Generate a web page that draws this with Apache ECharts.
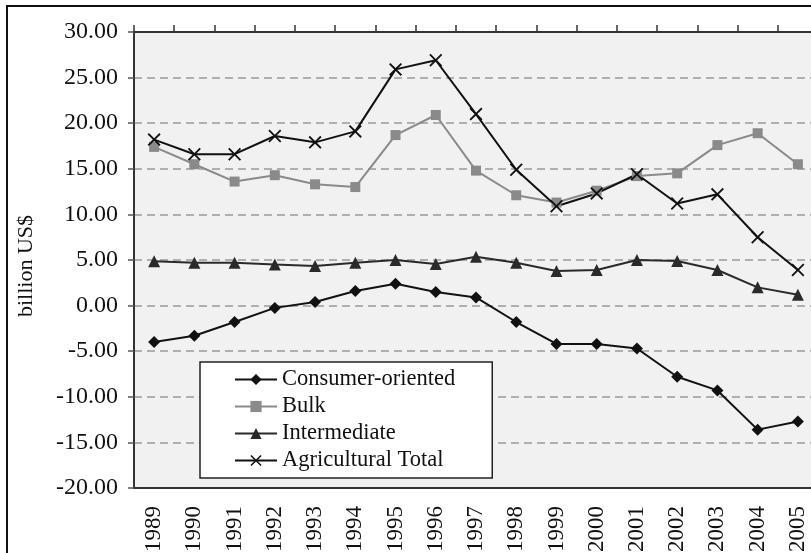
<!DOCTYPE html>
<html>
<head>
<meta charset="utf-8">
<script src="https://cdn.jsdelivr.net/npm/echarts@6/dist/echarts.min.js"></script>
<style>
  html, body { margin: 0; padding: 0; background: #fff; }
  #chart { width: 811px; height: 553px; }
</style>
</head>
<body>
<div id="chart"></div>
<script>
// Agricultural trade balance by product group, billion US$
const years = ['1989','1990','1991','1992','1993','1994','1995','1996','1997',
               '1998','1999','2000','2001','2002','2003','2004','2005'];
const consumerOriented = [-4.0, -3.3, -1.8, -0.25, 0.4, 1.6, 2.4, 1.5, 0.9,
                          -1.8, -4.2, -4.2, -4.7, -7.8, -9.3, -13.6, -12.7];
const bulk = [17.4, 15.5, 13.6, 14.3, 13.3, 13.0, 18.7, 20.9, 14.8,
              12.1, 11.3, 12.6, 14.2, 14.5, 17.6, 18.9, 15.5];
const intermediate = [4.85, 4.7, 4.7, 4.5, 4.35, 4.7, 5.0, 4.55, 5.35,
                      4.7, 3.8, 3.9, 5.0, 4.9, 3.9, 2.0, 1.2];
const agriculturalTotal = [18.2, 16.6, 16.6, 18.6, 17.9, 19.1, 25.9, 26.9, 21.0,
                           14.9, 10.9, 12.3, 14.4, 11.2, 12.2, 7.5, 3.9];
const yTicks = { min: -20, max: 30, step: 5 };

const serif = '"Liberation Serif", "Times New Roman", serif';
const crossPath = 'path://M0,1L1,0L5,4L9,0L10,1L6,5L10,9L9,10L5,6L1,10L0,9L4,5Z';

function lineSeries(name, data, color, symbol, size) {
  return {
    name, type: 'line', data,
    symbol, symbolSize: size,
    itemStyle: { color },
    lineStyle: { color, width: 2 },
    emphasis: { disabled: true }
  };
}

const chart = echarts.init(document.getElementById('chart'), null, { renderer: 'canvas' });
chart.setOption({
  animation: false,
  backgroundColor: '#ffffff',
  textStyle: { fontFamily: serif },
  graphic: [{
    type: 'rect',
    shape: { x: 7, y: 6, width: 1000, height: 800 },
    style: { fill: 'none', stroke: '#111', lineWidth: 2 },
    z: 100
  }],
  grid: {
    left: 134, top: 32, width: 684, bottom: 65,
    outerBoundsMode: 'none',
    show: true, backgroundColor: '#f1f1f1', borderWidth: 0
  },
  legend: {
    orient: 'vertical',
    left: 200, top: 362,
    backgroundColor: '#ffffff',
    borderColor: '#222', borderWidth: 1.5,
    padding: [6, 37, 6, 34],
    itemWidth: 42, itemHeight: 14, itemGap: 4,
    textStyle: { fontFamily: serif, fontSize: 22.5, color: '#111' },
    data: ['Consumer-oriented', 'Bulk', 'Intermediate', 'Agricultural Total']
  },
  xAxis: [{
    type: 'category', data: years, position: 'bottom',
    boundaryGap: true,
    axisLine: { onZero: false, lineStyle: { color: '#333', width: 2 } },
    axisTick: { show: false },
    axisLabel: { rotate: 90, fontFamily: serif, fontSize: 23, color: '#111', margin: 18 }
  }, {
    type: 'category', data: years, position: 'top',
    boundaryGap: true,
    axisLine: { onZero: false, lineStyle: { color: '#333', width: 2 } },
    axisTick: { show: true, length: 7, lineStyle: { color: '#333', width: 1.5 } },
    axisLabel: { show: false }
  }],
  yAxis: {
    type: 'value', min: yTicks.min, max: yTicks.max, interval: yTicks.step,
    name: 'billion US$', nameLocation: 'middle', nameRotate: 90, nameGap: 97,
    nameTextStyle: { fontFamily: serif, fontSize: 22, color: '#111', padding: [0, 12, 0, 0] },
    axisLine: { show: true, lineStyle: { color: '#333', width: 2 } },
    axisTick: { show: true, length: 6, lineStyle: { color: '#555', width: 1.5 } },
    axisLabel: {
      fontFamily: serif, fontSize: 24, color: '#111', margin: 16,
      formatter: v => v.toFixed(2)
    },
    splitLine: { show: true, lineStyle: { color: '#999', width: 1.5, type: [8, 5] } }
  },
  series: [
    lineSeries('Consumer-oriented', consumerOriented, '#111', 'diamond', 12),
    lineSeries('Bulk', bulk, '#8a8a8a', 'rect', 10),
    lineSeries('Intermediate', intermediate, '#2a2a2a', 'triangle', 12),
    lineSeries('Agricultural Total', agriculturalTotal, '#111', crossPath, 13)
  ]
});
</script>
</body>
</html>
